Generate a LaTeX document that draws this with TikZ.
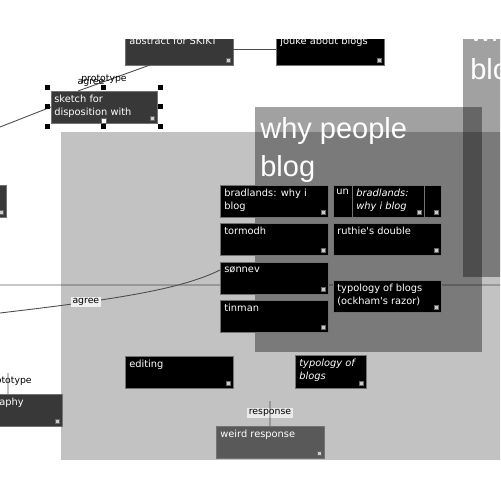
\documentclass[tikz,border=0pt]{standalone}
\usepackage{fontspec}
\newfontfamily\notefont{DejaVu Sans}
\newfontfamily\titlefont{Liberation Sans}
\usetikzlibrary{positioning}

\begin{document}
\begin{tikzpicture}[x=0.02cm, y=-0.02cm,
  note/.style={anchor=north west, fill=black, draw=black!55, line width=0.4pt,
    minimum width=2.16cm, minimum height=0.64cm, inner sep=0pt, outer sep=0pt},
  grey note/.style={note, fill=black!78},
  txt/.style={anchor=north west, inner sep=0pt, text=white, align=left,
    font=\notefont\fontsize{5.6}{7}\selectfont},
  icon/.style={fill=black!20, draw=black!60, line width=0.2pt, minimum size=0.08cm, inner sep=0pt},
  box/.style={anchor=north west, fill=black, fill opacity=0.37, draw=none, inner sep=0pt},
  title/.style={anchor=north west, inner sep=0pt, text=white, align=left,
    font=\titlefont\fontsize{16.5}{21.5}\selectfont},
  link/.style={draw=black!70, line width=0.5pt},
  lbl/.style={inner sep=1pt, font=\notefont\fontsize{5.3}{6}\selectfont, text=black},
  handle/.style={fill=black, minimum size=0.1cm, inner sep=0pt},
]
\useasboundingbox (0,0) rectangle (500,500);
\begin{scope}
\clip (0,39.5) rectangle (500,500);
%containers
\node[box, fill=black!24, fill opacity=1, minimum width=8.8cm, minimum height=6.56cm] (map) at (61,132) {};
\node[box, minimum width=4.54cm, minimum height=4.9cm] (why) at (255,107) {};
\node[title] at ([shift={(5,10)}]why.north west) {why people\\blog};
\node[box, minimum width=1.2cm, minimum height=5.36cm] (whyr) at (463,9) {};
\node[title] at ([shift={(7,11)}]whyr.north west) {why people\\blog};
\draw[black, opacity=0.22, line width=1.7pt] (0,285) -- (500,285);

%notes outside
\node[grey note] (abstract) at (125,33) {};
\node[txt] at ([shift={(4,4)}]abstract.north west) {abstract for SKIKT};
\node[note] (jouke) at (276,33) {};
\node[txt] at ([shift={(4,4)}]jouke.north west) {jouke about blogs};
\node[grey note, minimum width=2.12cm] (sketch) at (51,91) {};
\node[txt] at ([shift={(3,4)}]sketch.north west) {sketch for\\disposition with};
\node[grey note] (partial) at (-102,185) {};
\node[grey note] (aphy) at (-46,394) {};
\node[txt] at ([shift={(45,4)}]aphy.north west) {aphy};
\node[note] (editing) at (125,356) {};
\node[txt] at ([shift={(4,4)}]editing.north west) {editing};
\node[note, minimum width=1.42cm, minimum height=0.66cm] (typo) at (295,355) {};
\node[txt, font=\notefont\itshape\fontsize{5.6}{7}\selectfont] at ([shift={(4,4)}]typo.north west) {typology of\\blogs};
\node[grey note, fill=black!65] (weird) at (216,426) {};
\node[txt] at ([shift={(4,4)}]weird.north west) {weird response};

%notes inside why people blog
\node[note] (bradl) at (220,185) {};
\node[note, below=0.12cm of bradl] (tormodh) {};
\node[note, below=0.14cm of tormodh] (sonnev) {};
\node[note, below=0.12cm of sonnev] (tinman) {};
\node[note, right=0.1cm of bradl] (un) {};
\node[note, minimum width=1.44cm] (bradl2) at ([shift={(19,0)}]un.north west) {};
\node[note, right=0.1cm of tormodh] (ruthie) {};
\node[note, right=0.1cm of sonnev, yshift=-0.36cm] (typo2) {};
\node[txt] at ([shift={(4,4)}]bradl.north west) {bradlands: why i\\blog};
\node[txt] at ([shift={(3,4)}]un.north west) {un};
\node[txt, font=\notefont\itshape\fontsize{5.6}{7}\selectfont] at ([shift={(4,4)}]bradl2.north west) {bradlands:\\why i blog};
\node[txt] at ([shift={(4,4)}]tormodh.north west) {tormodh};
\node[txt] at ([shift={(4,4)}]ruthie.north west) {ruthie's double};
\node[txt] at ([shift={(4,4)}]sonnev.north west) {sønnev};
\node[txt] at ([shift={(4,4)}]typo2.north west) {typology of blogs\\(ockham's razor)};
\node[txt] at ([shift={(4,4)}]tinman.north west) {tinman};

\foreach \n in {abstract, jouke, sketch, partial, aphy, editing, typo, weird,
  bradl, tormodh, sonnev, tinman, un, bradl2, ruthie, typo2}
  \node[icon] at ([shift={(-5,-5)}]\n.south east) {};

%links between notes
\coordinate (offagree) at (0,313);
\coordinate (offsketch) at (0,127);
\draw[link] (offagree) .. controls (110,300) and (180,290) .. ([shift={(0,8)}]sonnev.north west)
  node[lbl, fill=black!6, pos=0.29] {agree};
\draw[link] (abstract) -- (jouke);
\draw[link] ([shift={(27,0)}]sketch.north west) -- ([shift={(25,0)}]abstract.south west);
\draw[link] (offsketch) -- (sketch.west);
\node[lbl] at (104,79) {prototype};
\node[lbl] at (91,83) {agree};
\coordinate (offproto) at (8,373);
\node[lbl] at (9,381) {prototype};
\draw[link] (offproto) -- (aphy.north);
\coordinate (offresp) at (270,401);
\node[lbl, fill=black!8] at (270,413) {response};
\draw[link] (offresp) -- (weird.north);

%selection of sketch
\node[minimum width=2.24cm, minimum height=0.76cm, inner sep=0pt] (sel) at (sketch.center) {};
\foreach \a in {north west, north, north east, west, east, south west, south, south east}
  \node[handle] at (sel.\a) {};
\node[fill=white, draw=black!60, line width=0.2pt, minimum size=0.1cm, inner sep=0pt] at ([shift={(0,-6)}]sel.south) {};
\end{scope}
\end{tikzpicture}
\end{document}
